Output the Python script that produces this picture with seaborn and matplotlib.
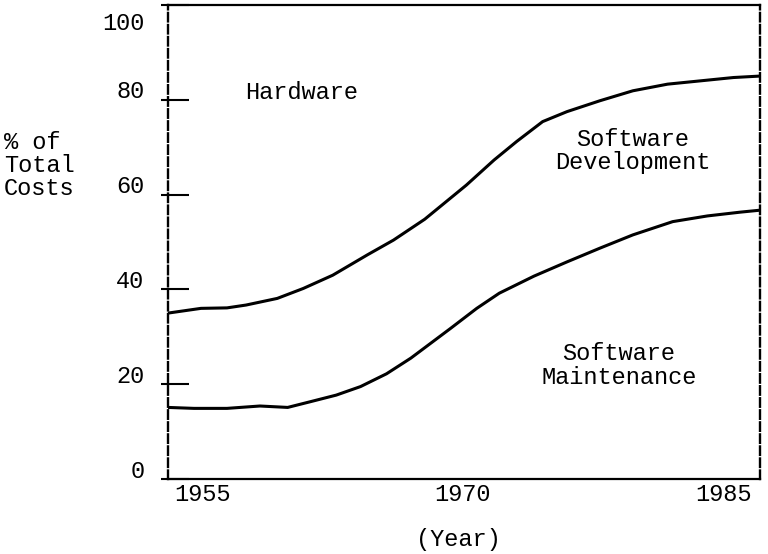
import matplotlib
matplotlib.use("Agg")
import matplotlib.pyplot as plt
from matplotlib.transforms import ScaledTranslation
import pandas as pd
import seaborn as sns

# Upper boundary: combined software share of total cost (hardware lies above it)
software_years = [1953.0, 1954.9, 1956.4, 1957.5, 1959.3, 1960.8, 1962.5, 1964.5,
                  1966.0, 1967.8, 1968.7, 1970.2, 1971.8, 1973.1, 1974.6, 1976.0,
                  1977.9, 1979.8, 1981.8, 1983.7, 1985.6, 1987.1]
software_pct = [35.0, 36.0, 36.1, 36.7, 38.1, 40.2, 43.0, 47.3,
                50.4, 54.8, 57.5, 62.0, 67.3, 71.2, 75.4, 77.5,
                79.8, 81.9, 83.3, 84.0, 84.7, 85.0]

# Lower boundary: software maintenance share of total cost
maintenance_years = [1953.0, 1954.5, 1956.4, 1958.3, 1959.9, 1961.2, 1962.7, 1964.1,
                     1965.6, 1967.0, 1969.3, 1970.8, 1972.1, 1974.1, 1976.0,
                     1977.9, 1979.8, 1982.1, 1984.1, 1986.0, 1987.1]
maintenance_pct = [15.1, 14.9, 14.9, 15.4, 15.1, 16.3, 17.7, 19.5,
                   22.2, 25.5, 31.8, 36.0, 39.2, 42.8, 45.8,
                   48.7, 51.5, 54.3, 55.5, 56.3, 56.7]

year_ticks = [1955, 1970, 1985]
pct_ticks = [0, 20, 40, 60, 80, 100]

sns.set_style("white", rc={
    "axes.edgecolor": "black",
    "axes.labelcolor": "black",
    "text.color": "black",
    "xtick.color": "black",
    "ytick.color": "black",
})
plt.rcParams["font.family"] = ["Liberation Mono", "DejaVu Sans Mono"]

df = pd.concat([
    pd.DataFrame({"year": software_years, "pct": software_pct, "boundary": "software"}),
    pd.DataFrame({"year": maintenance_years, "pct": maintenance_pct, "boundary": "maintenance"}),
], ignore_index=True)

fig = plt.figure(figsize=(7.68, 5.54), dpi=100)
ax = fig.add_axes([168 / 768, 1 - 479 / 554, (760 - 168) / 768, (479 - 5) / 554])

sns.lineplot(data=df, x="year", y="pct", hue="boundary",
             palette=["black", "black"], linewidth=2.2, legend=False,
             estimator=None, sort=True, ax=ax)

ax.set_xlim(1953.0, 1987.13)
ax.set_ylim(0, 100)

# Frame: solid top/bottom, dashed sides
for side in ("top", "bottom"):
    ax.spines[side].set_linewidth(1.6)
    ax.spines[side].set_color("black")
for side in ("left", "right"):
    ax.spines[side].set_color("black")
    ax.spines[side].set_linewidth(1.7)
    ax.spines[side].set_linestyle((0, (3.6, 1.5)))

# X axis: labels only
ax.set_xticks(year_ticks)
ax.set_xticklabels([str(y) for y in year_ticks])
ax.tick_params(axis="x", which="both", length=0, pad=3, labelsize=17, bottom=True)

# Y axis: ticks reaching a little outside and mostly inside the frame
ax.set_yticks(pct_ticks)
ax.set_yticklabels([str(v) for v in pct_ticks])
ax.set_yticks(pct_ticks, minor=True)
ax.yaxis.remove_overlapping_locs = False
ax.tick_params(axis="y", which="major", direction="in", length=15, width=1.5,
               pad=17, labelsize=17, left=True, right=False)
ax.tick_params(axis="y", which="minor", direction="out", length=5, width=1.5,
               left=True, right=False, labelleft=False)

ax.set_xlabel("(Year)", fontsize=17)
ax.xaxis.label.set_va("center")
ax.xaxis.set_label_coords(0.49, -0.1266)

ax.set_ylabel("% of\nTotal\nCosts", rotation=0, ha="left", va="center",
              fontsize=17, multialignment="left", linespacing=1.0)
ax.yaxis.set_label_coords(-0.277, 0.662)

# Region names
ax.text(1960.7, 81.5, "Hardware", fontsize=17, ha="center", va="center")
ax.text(1979.8, 69.2, "Software\nDevelopment", fontsize=17, ha="center",
        va="center", linespacing=1.05)
ax.text(1979.0, 24.0, "Software\nMaintenance", fontsize=17, ha="center",
        va="center", linespacing=1.05)

# Percent labels sit just above their tick; the top one hangs below the frame
for tick, val in zip(ax.yaxis.get_major_ticks(), pct_ticks):
    dy = -11.5 if val == 100 else 7.5
    tick.label1.set_transform(tick.label1.get_transform()
                              + ScaledTranslation(0, dy / 72, fig.dpi_scale_trans))

fig.savefig("out.png", dpi=100)
